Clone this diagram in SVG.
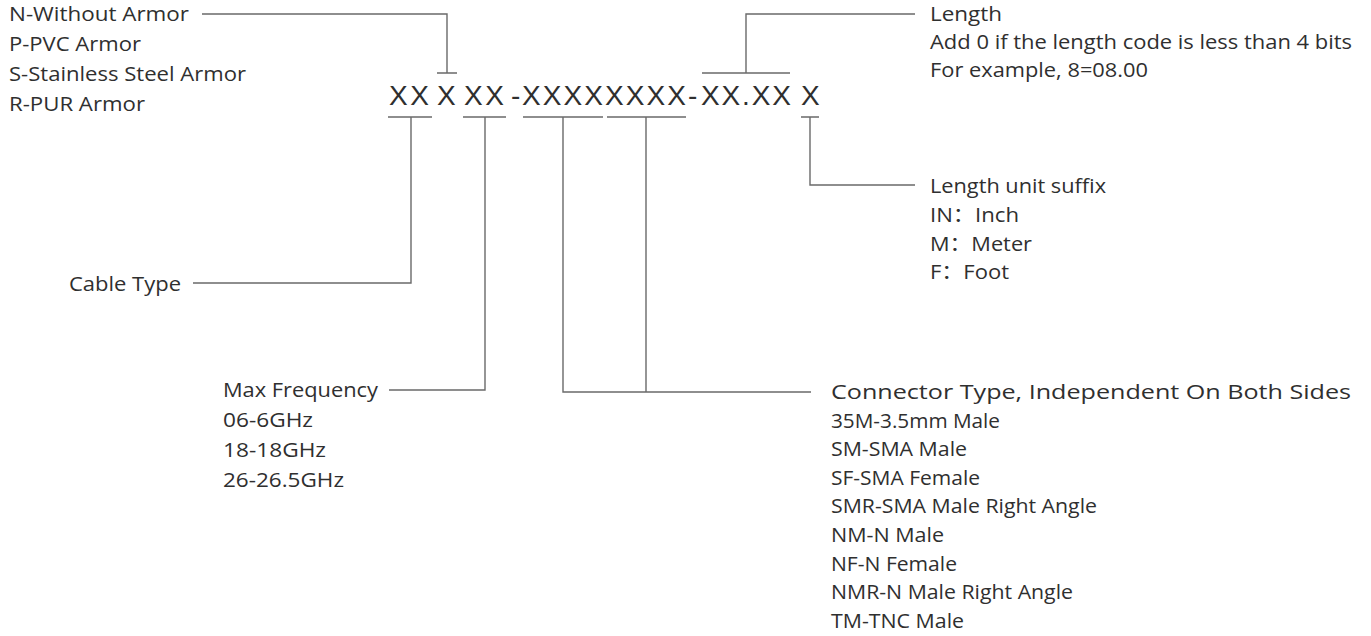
<svg xmlns="http://www.w3.org/2000/svg" width="1371" height="636" viewBox="0 0 1371 636">
<style>
.t{font-family:"Open Sans","Noto Sans","Noto Sans CJK SC",sans-serif;font-size:19.5px;fill:#2f2f2f}
.c{font-family:"Liberation Sans",Arial,sans-serif;font-size:28px;fill:#2f2f2f}
.ln{fill:none;stroke:#6a6a6a;stroke-width:1.4}
</style>
<rect width="1371" height="636" fill="#ffffff"/>
<g id="code">
<text class="c" x="389" y="105" textLength="40" lengthAdjust="spacing">XX</text>
<text class="c" x="437" y="105">X</text>
<text class="c" x="464" y="105" textLength="40" lengthAdjust="spacing">XX</text>
<text class="c" x="511" y="105">-</text>
<text class="c" x="522" y="105" textLength="164" lengthAdjust="spacing">XXXXXXXX</text>
<text class="c" x="688" y="105">-</text>
<text class="c" x="701" y="105" textLength="90" lengthAdjust="spacing">XX.XX</text>
<text class="c" x="801" y="105">X</text>
</g>
<g id="armor">
<text class="t" x="9" y="21" textLength="180" lengthAdjust="spacingAndGlyphs">N-Without Armor</text>
<text class="t" x="9" y="51" textLength="132" lengthAdjust="spacingAndGlyphs">P-PVC Armor</text>
<text class="t" x="9" y="81" textLength="237" lengthAdjust="spacingAndGlyphs">S-Stainless Steel Armor</text>
<text class="t" x="9" y="111" textLength="136" lengthAdjust="spacingAndGlyphs">R-PUR Armor</text>
</g>
<g id="cable-type">
<text class="t" x="69" y="291" textLength="112" lengthAdjust="spacingAndGlyphs">Cable Type</text>
</g>
<g id="max-frequency">
<text class="t" x="223" y="397" textLength="155" lengthAdjust="spacingAndGlyphs">Max Frequency</text>
<text class="t" x="223" y="427" textLength="90" lengthAdjust="spacingAndGlyphs">06-6GHz</text>
<text class="t" x="223" y="457" textLength="103" lengthAdjust="spacingAndGlyphs">18-18GHz</text>
<text class="t" x="223" y="487" textLength="121" lengthAdjust="spacingAndGlyphs">26-26.5GHz</text>
</g>
<g id="length">
<text class="t" x="930" y="21" textLength="72" lengthAdjust="spacingAndGlyphs">Length</text>
<text class="t" x="930" y="49" textLength="422" lengthAdjust="spacingAndGlyphs">Add 0 if the length code is less than 4 bits</text>
<text class="t" x="930" y="77" textLength="218" lengthAdjust="spacingAndGlyphs">For example, 8=08.00</text>
</g>
<g id="length-unit">
<text class="t" x="930" y="193" textLength="176" lengthAdjust="spacingAndGlyphs">Length unit suffix</text>
<text class="t" x="930" y="222" textLength="89" lengthAdjust="spacingAndGlyphs">IN：Inch</text>
<text class="t" x="930" y="251" textLength="102" lengthAdjust="spacingAndGlyphs">M：Meter</text>
<text class="t" x="930" y="279" textLength="79" lengthAdjust="spacingAndGlyphs">F：Foot</text>
</g>
<g id="connector-type">
<text class="t" x="831" y="399" textLength="520" lengthAdjust="spacingAndGlyphs">Connector Type, Independent On Both Sides</text>
<text class="t" x="831" y="427.6" textLength="169" lengthAdjust="spacingAndGlyphs">35M-3.5mm Male</text>
<text class="t" x="831" y="456.2" textLength="136" lengthAdjust="spacingAndGlyphs">SM-SMA Male</text>
<text class="t" x="831" y="484.8" textLength="149" lengthAdjust="spacingAndGlyphs">SF-SMA Female</text>
<text class="t" x="831" y="513.4" textLength="266" lengthAdjust="spacingAndGlyphs">SMR-SMA Male Right Angle</text>
<text class="t" x="831" y="542" textLength="113" lengthAdjust="spacingAndGlyphs">NM-N Male</text>
<text class="t" x="831" y="570.6" textLength="126" lengthAdjust="spacingAndGlyphs">NF-N Female</text>
<text class="t" x="831" y="599.2" textLength="242" lengthAdjust="spacingAndGlyphs">NMR-N Male Right Angle</text>
<text class="t" x="831" y="627.8" textLength="133" lengthAdjust="spacingAndGlyphs">TM-TNC Male</text>
</g>
<g id="connectors" class="ln">
<path d="M202 14H447V73M437 73H457"/>
<path d="M915 14H746V73M702 73H790"/>
<path d="M388 117H432M411 117V283H193"/>
<path d="M463 117H506M485 117V390H389"/>
<path d="M523 117H603M607 117H686M563 117V392H811M646 117V392"/>
<path d="M801 117H819M810 117V185H915"/>
</g>
</svg>
